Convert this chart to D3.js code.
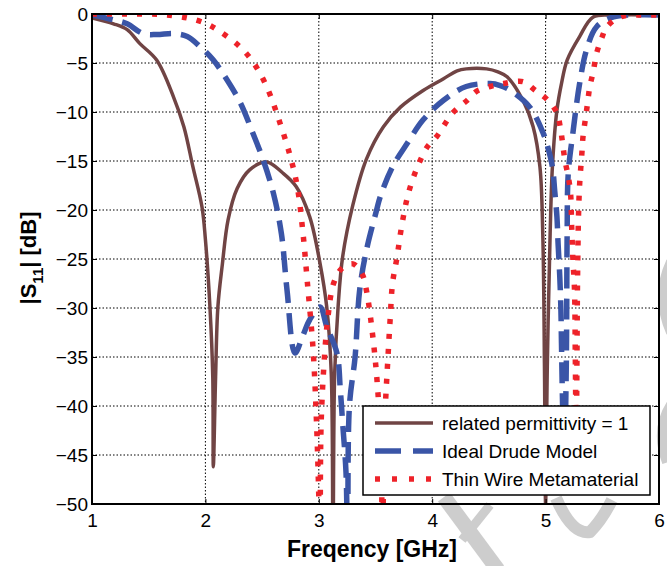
<!DOCTYPE html>
<html>
<head>
<meta charset="utf-8">
<script src="https://cdn.jsdelivr.net/npm/d3@7"></script>
<style>
  body { margin: 0; background: #fff; }
  text { font-family: "Liberation Sans", Arial, sans-serif; }
</style>
</head>
<body>
<div id="container"></div>
<script>
// series: [GHz, dB]
var relPerm = [[1,-0.4],[1.19,-1.0],[1.31,-1.6],[1.42,-3.0],[1.57,-4.7],[1.72,-8.5],[1.81,-11.5],[1.89,-15.6],[1.97,-19.7],[2.0,-23],[2.04,-29.9],[2.065,-37],[2.07,-46.2],[2.09,-37],[2.11,-29.9],[2.15,-25.5],[2.2,-21],[2.28,-17.8],[2.39,-15.9],[2.54,-15.1],[2.68,-16.2],[2.8,-17.6],[2.92,-20.7],[3.01,-25.4],[3.07,-29.9],[3.11,-36.7],[3.125,-55],[3.14,-36.7],[3.17,-29.9],[3.21,-24.8],[3.3,-19.5],[3.42,-14.8],[3.57,-11.5],[3.72,-9.5],[3.92,-7.8],[4.1,-6.6],[4.22,-5.8],[4.3,-5.6],[4.48,-5.6],[4.58,-5.9],[4.66,-6.4],[4.8,-8.8],[4.89,-11.5],[4.95,-15.6],[4.975,-22.4],[4.99,-36],[5.0,-50],[5.015,-36],[5.04,-22.4],[5.06,-15.6],[5.1,-9.8],[5.14,-7.1],[5.19,-4.7],[5.3,-2.3],[5.42,-0.3],[5.6,-0.1],[6,-0.1]];

var drude = [[1,-0.1],[1.19,-0.6],[1.31,-1.0],[1.45,-2.0],[1.57,-2.1],[1.72,-2.0],[1.84,-2.3],[1.95,-3.3],[2.07,-4.7],[2.19,-6.7],[2.31,-9.1],[2.42,-12.2],[2.51,-14.9],[2.6,-18.3],[2.67,-22.4],[2.72,-28.2],[2.79,-34.6],[2.86,-32.8],[2.92,-31.2],[3.01,-29.9],[3.07,-31.9],[3.16,-34.6],[3.19,-38.4],[3.21,-41.7],[3.24,-46.8],[3.255,-55],[3.27,-40],[3.32,-35],[3.36,-28.2],[3.42,-24.1],[3.51,-20],[3.54,-18.7],[3.65,-15.6],[3.78,-13.2],[3.92,-10.8],[4.1,-8.8],[4.3,-7.4],[4.51,-7.1],[4.6,-7.3],[4.69,-7.8],[4.86,-9.5],[4.98,-12.2],[5.01,-13.2],[5.06,-15.6],[5.08,-18],[5.1,-20.7],[5.11,-23.4],[5.125,-26.8],[5.135,-30.2],[5.14,-33.6],[5.15,-40],[5.165,-46],[5.18,-38],[5.185,-32.6],[5.19,-22.4],[5.2,-16.2],[5.24,-12.2],[5.3,-7.1],[5.36,-3.7],[5.45,-1.3],[5.6,-0.3],[6,-0.1]];

var thinWire = [[1,0],[1.3,0],[1.6,-0.05],[1.84,-0.4],[2.01,-1.0],[2.13,-1.8],[2.3,-3.3],[2.42,-4.9],[2.54,-7.4],[2.66,-11.2],[2.75,-14.6],[2.81,-17.6],[2.86,-22.3],[2.9,-27.5],[2.95,-34.3],[2.98,-41.7],[3.0,-49.3],[3.01,-55],[3.02,-42],[3.05,-35],[3.08,-31],[3.13,-27.5],[3.2,-26],[3.3,-25.5],[3.38,-26.5],[3.42,-28.2],[3.48,-33.3],[3.52,-38.4],[3.55,-45],[3.56,-55],[3.58,-42],[3.61,-35],[3.63,-31],[3.65,-27.5],[3.69,-24.8],[3.73,-21.7],[3.79,-18.3],[3.87,-15.6],[3.96,-13.5],[4.04,-12.5],[4.18,-10.1],[4.31,-8.8],[4.39,-7.9],[4.51,-7.4],[4.63,-7.1],[4.8,-6.9],[4.91,-7.8],[5.02,-8.8],[5.1,-10.1],[5.13,-11.6],[5.15,-13.2],[5.17,-14.9],[5.2,-16.6],[5.22,-18.3],[5.23,-21.7],[5.24,-24.8],[5.255,-28.2],[5.262,-35],[5.27,-44],[5.276,-36],[5.28,-29],[5.285,-24],[5.29,-20.7],[5.3,-17.4],[5.32,-14.2],[5.33,-12.5],[5.35,-10.8],[5.37,-9.1],[5.39,-7.4],[5.42,-5.9],[5.45,-4.0],[5.5,-2.3],[5.54,-1.3],[5.66,-0.3],[5.9,-0.1],[6,-0.1]];

var seriesNames = ["related permittivity = 1", "Ideal Drude Model", "Thin Wire Metamaterial"];
var xTicks = [1, 2, 3, 4, 5, 6];
var yTicks = [0, -5, -10, -15, -20, -25, -30, -35, -40, -45, -50];

var W = 667, H = 566;
var padL = 92, padR = 659, padT = 14, padB = 504;

let viz = d3.select("#container")
  .append("svg")
  .attr("width", W)
  .attr("height", H);

var x = d3.scaleLinear().domain([1, 6]).range([padL, padR]);
var y = d3.scaleLinear().domain([-50, 0]).range([padB, padT]);

// faint watermark strokes in the lower right
var wm = viz.append("g")
  .attr("fill", "none")
  .attr("stroke", "#cdcdcd")
  .attr("stroke-linecap", "butt");
wm.append("path").attr("d", "M444,497 L498,570").attr("stroke-width", 15);
wm.append("path").attr("d", "M490,505 L462,540").attr("stroke-width", 9);
wm.append("path").attr("d", "M556,498 Q572,535 590,532 Q602,520 612,500").attr("stroke-width", 12);
wm.append("path").attr("d", "M672,262 Q656,296 672,332").attr("stroke-width", 12);
wm.append("path").attr("d", "M672,405 Q656,430 668,462").attr("stroke-width", 12);

// grid
var grid = viz.append("g")
  .attr("stroke", "#000")
  .attr("stroke-width", 1)
  .attr("stroke-dasharray", "1.5,2");
grid.selectAll("line.gx").data(xTicks.slice(1, -1)).enter().append("line")
  .attr("x1", d => x(d)).attr("x2", d => x(d))
  .attr("y1", padT).attr("y2", padB);
grid.selectAll("line.gy").data(yTicks.slice(1, -1)).enter().append("line")
  .attr("x1", padL).attr("x2", padR)
  .attr("y1", d => y(d)).attr("y2", d => y(d));

// curves
viz.append("clipPath").attr("id", "plotclip")
  .append("rect")
  .attr("x", padL).attr("y", padT)
  .attr("width", padR - padL).attr("height", padB - padT);

var line = d3.line()
  .x(d => x(d[0]))
  .y(d => y(d[1]))
  .curve(d3.curveCatmullRom.alpha(0.5));

var styles = [
  { data: relPerm, color: "#704444", width: 3.5, dash: null },
  { data: drude, color: "#3a55a7", width: 5.5, dash: "21,10" },
  { data: thinWire, color: "#ee2229", width: 5.5, dash: "5,10" }
];

var curves = viz.append("g").attr("clip-path", "url(#plotclip)");
styles.forEach(function (s) {
  curves.append("path")
    .attr("d", line(s.data))
    .attr("fill", "none")
    .attr("stroke", s.color)
    .attr("stroke-width", s.width)
    .attr("stroke-linejoin", "round")
    .attr("stroke-dasharray", s.dash);
});

// axes, ticks pointing inward on all sides
var fmt = d3.format("d");
var xAx = viz.append("g").attr("transform", "translate(0," + padB + ")")
  .call(d3.axisBottom(x).tickValues(xTicks).tickFormat(fmt).tickSizeInner(-5).tickSizeOuter(0).tickPadding(10));
var xAxTop = viz.append("g").attr("transform", "translate(0," + padT + ")")
  .call(d3.axisTop(x).tickValues(xTicks).tickSizeInner(-5).tickSizeOuter(0).tickFormat(""));
var yAx = viz.append("g").attr("transform", "translate(" + padL + ",0)")
  .call(d3.axisLeft(y).tickValues(yTicks).tickFormat(fmt).tickSizeInner(-5).tickSizeOuter(0).tickPadding(4));
var yAxR = viz.append("g").attr("transform", "translate(" + padR + ",0)")
  .call(d3.axisRight(y).tickValues(yTicks).tickSizeInner(-5).tickSizeOuter(0).tickFormat(""));

[xAx, xAxTop, yAx, yAxR].forEach(function (g) {
  g.select(".domain").remove();
  g.selectAll(".tick line").attr("stroke", "#000").attr("stroke-width", 1);
  g.selectAll(".tick text")
    .attr("fill", "#000")
    .style("font-size", "19px")
    .style("font-family", "Liberation Sans, Arial, sans-serif");
});

viz.append("rect")
  .attr("x", padL).attr("y", padT)
  .attr("width", padR - padL).attr("height", padB - padT)
  .attr("fill", "none")
  .attr("stroke", "#000")
  .attr("stroke-width", 2);

// legend
var lg = viz.append("g");
lg.append("rect")
  .attr("x", 363).attr("y", 406)
  .attr("width", 287).attr("height", 89)
  .attr("fill", "#fff")
  .attr("stroke", "#000")
  .attr("stroke-width", 1.5);
styles.forEach(function (s, i) {
  var ly = 423 + i * 28;
  lg.append("line")
    .attr("x1", 375).attr("x2", 433)
    .attr("y1", ly).attr("y2", ly)
    .attr("stroke", s.color)
    .attr("stroke-width", s.width)
    .attr("stroke-dasharray", i == 1 ? "26,12" : (i == 2 ? "5,12" : null));
  lg.append("text")
    .text(seriesNames[i])
    .attr("x", 442).attr("y", ly + 7)
    .style("font-size", "19px");
});

// axis titles
viz.append("text")
  .text("Freqency [GHz]")
  .attr("x", 372).attr("y", 557)
  .attr("text-anchor", "middle")
  .style("font-size", "23px")
  .style("font-weight", "bold");

var yt = viz.append("text")
  .attr("transform", "translate(36,258) rotate(-90)")
  .attr("text-anchor", "middle")
  .style("font-size", "22px")
  .style("font-weight", "bold");
yt.append("tspan").text("|S");
yt.append("tspan").text("11").attr("dy", 7).style("font-size", "15px");
yt.append("tspan").text("| [dB]").attr("dy", -7);
</script>
</body>
</html>
